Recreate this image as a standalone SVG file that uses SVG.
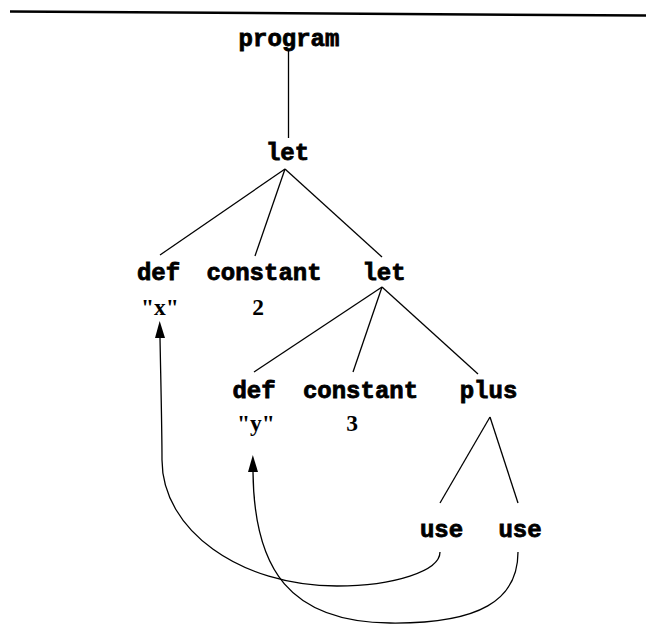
<svg xmlns="http://www.w3.org/2000/svg" width="646" height="624" viewBox="0 0 646 624">
  <style>
    .kw { font-family: "Liberation Mono", "Courier New", monospace; font-weight: bold; font-size: 24px; fill: #000; stroke: #000; stroke-width: 0.8; text-anchor: middle; }
    .lit { font-family: "Liberation Serif", "Times New Roman", serif; font-weight: bold; font-size: 23.5px; fill: #000; text-anchor: middle; }
    .edge { fill: none; stroke: #000; stroke-width: 1.3; }
    .ref { fill: none; stroke: #000; stroke-width: 1.3; marker-end: url(#head); }
  </style>
  <defs>
    <marker id="head" markerUnits="userSpaceOnUse" viewBox="0 0 17 10" markerWidth="17" markerHeight="10" refX="0" refY="5" orient="auto">
      <path d="M0,0 L17,5 L0,10 z" fill="#000"/>
    </marker>
  </defs>

  <rect width="646" height="624" fill="#fff"/>

  <!-- rule across the top -->
  <line x1="10" y1="11.5" x2="646" y2="15.5" stroke="#000" stroke-width="2.5"/>

  <!-- tree edges and use-to-def references -->
  <g id="connectors">
    <line class="edge" x1="288.5" y1="50" x2="288.5" y2="138"/>
    <line class="edge" x1="285" y1="169" x2="160" y2="255"/>
    <line class="edge" x1="285" y1="169" x2="255" y2="256"/>
    <line class="edge" x1="285" y1="169" x2="382" y2="257"/>
    <line class="edge" x1="382" y1="287" x2="254" y2="372"/>
    <line class="edge" x1="382" y1="287" x2="353" y2="372"/>
    <line class="edge" x1="382" y1="287" x2="478" y2="374"/>
    <line class="edge" x1="490" y1="417" x2="440" y2="503"/>
    <line class="edge" x1="490" y1="417" x2="518" y2="503"/>
    <path class="ref" d="M440,552 C440,571 394,586 337,586 C240,586 162,530 162,460 C162,430 161,390 160,338"/>
    <path class="ref" d="M518,552 C518,600 480,624 390,623 C290,622 254,570 253,472"/>
  </g>

  <g id="program"><text class="kw" x="289" y="46">program</text></g>
  <g id="let-outer"><text class="kw" x="287.5" y="160">let</text></g>
  <g id="def-x">
    <text class="kw" x="158.5" y="280">def</text>
    <text class="lit" x="160" y="315">"x"</text>
  </g>
  <g id="constant-2">
    <text class="kw" x="264" y="280">constant</text>
    <text class="lit" x="258" y="315">2</text>
  </g>
  <g id="let-inner"><text class="kw" x="384" y="280">let</text></g>
  <g id="def-y">
    <text class="kw" x="254" y="398">def</text>
    <text class="lit" x="256" y="431">"y"</text>
  </g>
  <g id="constant-3">
    <text class="kw" x="360.5" y="398">constant</text>
    <text class="lit" x="352" y="431">3</text>
  </g>
  <g id="plus"><text class="kw" x="488.5" y="398">plus</text></g>
  <g id="use-x"><text class="kw" x="441.5" y="537">use</text></g>
  <g id="use-y"><text class="kw" x="520" y="537">use</text></g>
</svg>
